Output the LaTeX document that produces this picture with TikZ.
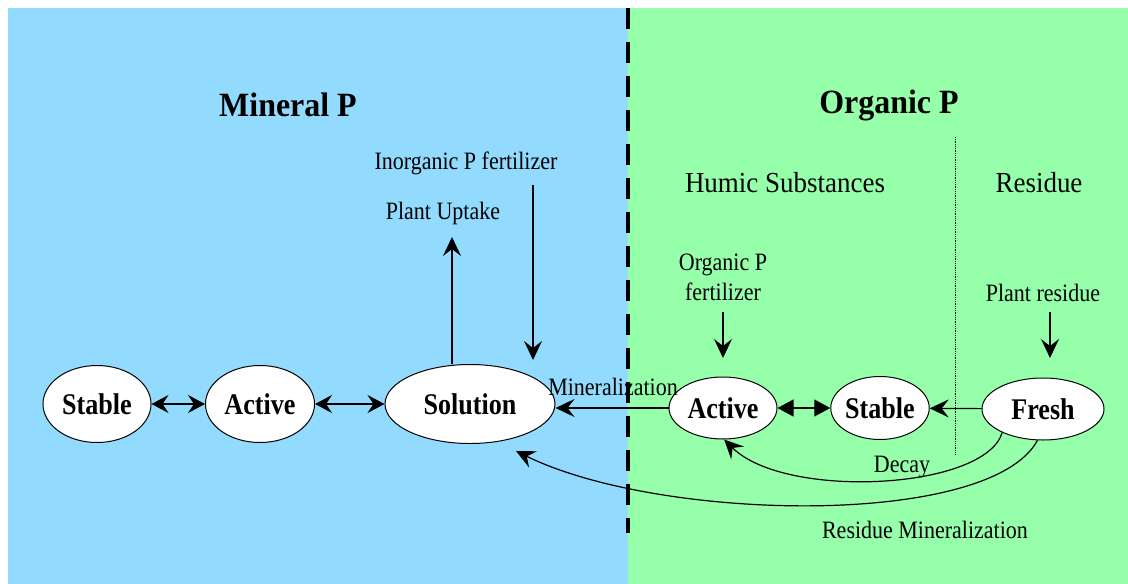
\documentclass[tikz,border=0pt]{standalone}
\usepackage{fontspec}
\setmainfont{Liberation Serif}
\newfontfamily\labfont[FakeStretch=0.88]{Liberation Serif}
\newfontfamily\nodefont[FakeStretch=0.87]{Liberation Serif}
\newfontfamily\titlefont[FakeStretch=0.94]{Liberation Serif}
\newfontfamily\humfont[FakeStretch=0.93]{Liberation Serif}
\usetikzlibrary{shapes.geometric,arrows.meta}
\definecolor{bluebg}{RGB}{146,219,255}
\definecolor{greenbg}{RGB}{150,255,170}
\begin{document}
\begin{tikzpicture}[x=1pt,y=-1pt,
  ell/.style={ellipse, draw, fill=white, line width=1pt, inner sep=0pt,
    font=\nodefont\fontsize{30}{32}\selectfont\bfseries},
  lab/.style={font=\labfont\fontsize{25}{30}\selectfont, inner sep=0pt},
  biglab/.style={font=\humfont\fontsize{29}{30}\selectfont, inner sep=0pt},
  title/.style={font=\titlefont\fontsize{34}{36}\selectfont\bfseries, inner sep=0pt},
  arr/.style={line width=1.2pt, -{Stealth[length=19pt,width=18pt,inset=7pt]}},
  darr/.style={line width=1.2pt, {Stealth[length=17pt,width=18pt,inset=6pt]}-{Stealth[length=17pt,width=18pt,inset=6pt]}},
  tarr/.style={line width=1.2pt, {Triangle[length=16pt,width=17pt]}-{Triangle[length=16pt,width=17pt]}}
]
\useasboundingbox (0,0) rectangle (1128,584);
\fill[bluebg] (8,8) rectangle (628,584);
\fill[greenbg] (628,8) rectangle (1128,584);
\draw[line width=3.5pt, dash pattern=on 21pt off 13pt] (628,8) -- (628,533);
\draw[densely dotted, line width=0.8pt] (955,137) -- (955,455);

% titles and labels
\node[title] (mineral) at (288,105) {Mineral P};
\node[title] (organic) at (889,105) {Organic P};
\node[lab] (inorg) at (466,163) {Inorganic P fertilizer};
\node[lab] (uptake) at (443,213) {Plant Uptake};
\node[biglab] (humic) at (785,183) {Humic Substances};
\node[biglab] (residue) at (1039,183) {Residue};
\node[lab, align=center] (orgfert) at (723,277) {Organic P\\fertilizer};
\node[lab] (plantres) at (1043,293) {Plant residue};
\node[lab] (decay) at (902,467) {Decay};
\node[lab] (resmin) at (925,530) {Residue Mineralization};

% ellipses
\node[ell, minimum width=108pt, minimum height=77pt] (stableL) at (97,404) {Stable};
\node[ell, minimum width=109pt, minimum height=77pt] (activeL) at (260,404) {Active};
\node[ell, minimum width=170pt, minimum height=79pt] (solution) at (470,404) {Solution};
\node[ell, minimum width=108pt, minimum height=62pt] (activeR) at (723,408) {Active};
\node[ell, minimum width=93pt, minimum height=63pt] (stableR) at (880,408) {Stable};
\node[ell, minimum width=122pt, minimum height=62pt] (fresh) at (1043,409) {Fresh};

\node[lab] (minz) at (613,387) {Mineralization};

% coordinates for free ends
\coordinate (upBot) at (452,364);
\coordinate (upTop) at (452,237);
\coordinate (inTop) at (533,185);
\coordinate (inTip) at (533,360);
\coordinate (ofTop) at (723,312);
\coordinate (ofTip) at (723,358);
\coordinate (prTop) at (1050,312);
\coordinate (prTip) at (1050,358);
\coordinate (rmTip) at (516,451);

% connectors
\draw[darr] (stableL) -- (activeL);
\draw[darr] (activeL) -- (solution);
\draw[arr] (upBot) -- (upTop);
\draw[arr] (inTop) -- (inTip);
\draw[arr] (ofTop) -- (ofTip);
\draw[arr] (prTop) -- (prTip);
\draw[arr] (activeR.west) -- (solution.east |- activeR.west);
\draw[tarr] (activeR) -- (stableR);
\draw[arr] (fresh) -- (stableR);
\draw[arr] (fresh.-150) .. controls (985,490) and (785,500) .. (activeR.-88);
\draw[arr] (fresh.-100) .. controls (990,528) and (660,522) .. (rmTip);
\end{tikzpicture}
\end{document}
